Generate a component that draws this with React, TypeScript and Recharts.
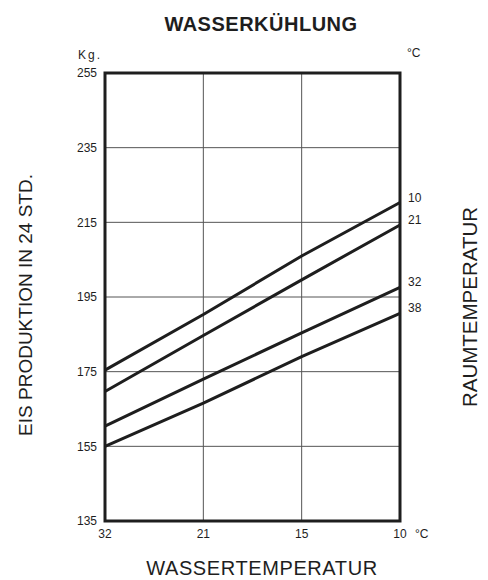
import React from 'react';
import { LineChart, Line, XAxis, YAxis, CartesianGrid, ReferenceArea } from 'recharts';

const categories = ['32', '21', '15', '10'];
const series10 = [175.4, 190.3, 206.0, 220.3];
const series21 = [169.7, 184.7, 199.6, 214.3];
const series32 = [160.4, 173.0, 185.4, 197.6];
const series38 = [155.0, 166.6, 179.0, 190.6];
const seriesNames = ['10', '21', '32', '38'];
const yTicks = [135, 155, 175, 195, 215, 235, 255];

const data = categories.map((c, i) => ({
  temp: c,
  s10: series10[i],
  s21: series21[i],
  s32: series32[i],
  s38: series38[i],
}));

const FONT = '"Liberation Sans", Arial, sans-serif';
const INK = '#1e1e1e';

const makeEndLabel = (name: string) => (props: any) => {
  const { x, y, index } = props;
  if (index !== categories.length - 1) return null;
  return (
    <text x={x + 8} y={y - 1} fontSize={12} fill={INK} fontFamily={FONT}>
      {name}
    </text>
  );
};

const keys = ['s10', 's21', 's32', 's38'];

export default function App() {
  return (
    <div style={{ position: 'absolute', left: 0, top: 0, width: 488, height: 580, background: '#fff' }}>
      <LineChart
        width={488}
        height={580}
        data={data}
        margin={{ top: 73, right: 88, bottom: 29, left: 65 }}
        style={{ fontFamily: FONT }}
      >
        <CartesianGrid stroke="#555" strokeWidth={1} />
        <XAxis
          dataKey="temp"
          type="category"
          height={30}
          tickLine={false}
          axisLine={false}
          tick={{ fontSize: 12, fill: INK, fontFamily: FONT }}
          interval={0}
        />
        <YAxis
          type="number"
          domain={[135, 255]}
          ticks={yTicks}
          width={40}
          tickLine={false}
          axisLine={false}
          tick={{ fontSize: 12, fill: INK, fontFamily: FONT }}
          interval={0}
        />
        {keys.map((k, i) => (
          <Line
            key={k}
            dataKey={k}
            stroke={INK}
            strokeWidth={3}
            dot={false}
            isAnimationActive={false}
            label={makeEndLabel(seriesNames[i])}
          />
        ))}
        <ReferenceArea
          x1={categories[0]}
          x2={categories[categories.length - 1]}
          y1={135}
          y2={255}
          fill="none"
          fillOpacity={0}
          stroke={INK}
          strokeWidth={3}
          ifOverflow="visible"
        />
      </LineChart>
      <svg
        width={488}
        height={580}
        style={{ position: 'absolute', left: 0, top: 0, pointerEvents: 'none' }}
        fontFamily={FONT}
      >
        <text x={261} y={31} textAnchor="middle" fontSize={20} fontWeight="bold" fill={INK} letterSpacing={0.5}>
          WASSERKÜHLUNG
        </text>
        <text x={78} y={59} fontSize={12} fill={INK} letterSpacing={2}>
          Kg.
        </text>
        <text x={407} y={57} fontSize={12} fill={INK}>
          °C
        </text>
        <text x={415} y={538} fontSize={12} fill={INK}>
          °C
        </text>
        <text x={262} y={575} textAnchor="middle" fontSize={20} fill={INK} letterSpacing={0.6}>
          WASSERTEMPERATUR
        </text>
        <text
          x={25}
          y={305}
          textAnchor="middle"
          dominantBaseline="central"
          fontSize={19}
          fill={INK}
          transform="rotate(-90 25 305)"
        >
          EIS PRODUKTION IN 24 STD.
        </text>
        <text
          x={469}
          y={307}
          textAnchor="middle"
          dominantBaseline="central"
          fontSize={20.5}
          fill={INK}
          transform="rotate(-90 469 307)"
        >
          RAUMTEMPERATUR
        </text>
      </svg>
    </div>
  );
}
